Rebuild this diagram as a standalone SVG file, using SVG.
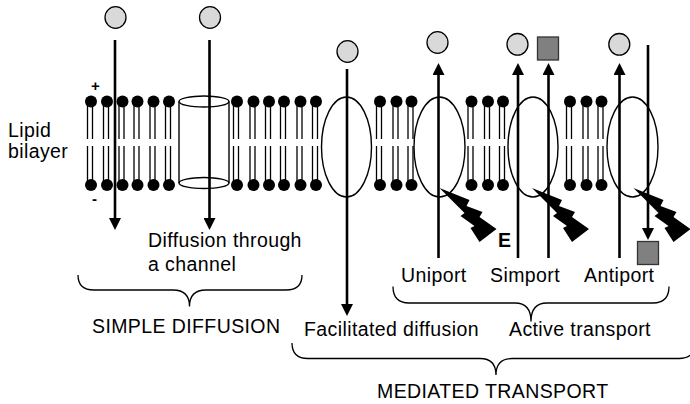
<svg xmlns="http://www.w3.org/2000/svg" xmlns:xlink="http://www.w3.org/1999/xlink" width="690" height="404" viewBox="0 0 690 404">
  <style>
    .txt { font-family: "Liberation Sans", Arial, sans-serif; font-size: 19.5px; letter-spacing: 0.4px; fill: #000; }
    .sign { font-family: "Liberation Sans", Arial, sans-serif; font-size: 15px; font-weight: bold; fill: #000; }
    .ln { stroke: #000; stroke-width: 1.4; fill: none; }
    .arrow { stroke: #000; stroke-width: 2.6; fill: none; }
    .mol { fill: #d9d9d9; stroke: #000; stroke-width: 1.3; }
    .sq { fill: #808080; stroke: #333; stroke-width: 1.3; }
    .carrier { fill: none; stroke: #000; stroke-width: 1.4; }
    .bolt { fill: #000; }
    .brace { fill: none; stroke: #000; stroke-width: 1.3; }
  </style>
  <defs>
    <marker id="head" markerUnits="userSpaceOnUse" markerWidth="12" markerHeight="12" refX="0" refY="6" orient="auto">
      <path d="M0,0 L12,6 L0,12 Z" fill="#000"/>
    </marker>
    <!-- one phospholipid pair: outer head + tails, inner tails + head -->
    <g id="lipid">
      <line x1="-3.5" y1="101" x2="-3.5" y2="139" stroke="#000" stroke-width="1.3"/>
      <line x1="1.5" y1="101" x2="1.5" y2="139" stroke="#000" stroke-width="1.3"/>
      <line x1="-3.5" y1="146" x2="-3.5" y2="185" stroke="#000" stroke-width="1.3"/>
      <line x1="1.5" y1="146" x2="1.5" y2="185" stroke="#000" stroke-width="1.3"/>
      <circle cx="0" cy="101.5" r="6"/>
      <circle cx="0" cy="185" r="6"/>
    </g>
    <path id="bolt" d="M0,0 L30,12 L27,18 L43,24 L40,29 L57,41 L40,54 L31,40 L35,38 L21,28 L25,25 Z"/>
  </defs>

  <rect width="690" height="404" fill="#fff"/>

  <!-- membrane lipids -->
  <g id="bilayer">
    <use xlink:href="#lipid" x="91"/>
    <use xlink:href="#lipid" x="107"/>
    <use xlink:href="#lipid" x="122.5"/>
    <use xlink:href="#lipid" x="137.5"/>
    <use xlink:href="#lipid" x="153.5"/>
    <use xlink:href="#lipid" x="169"/>
    <use xlink:href="#lipid" x="237"/>
    <use xlink:href="#lipid" x="253.5"/>
    <use xlink:href="#lipid" x="269"/>
    <use xlink:href="#lipid" x="284"/>
    <use xlink:href="#lipid" x="300.5"/>
    <use xlink:href="#lipid" x="316"/>
    <use xlink:href="#lipid" x="380"/>
    <use xlink:href="#lipid" x="396.5"/>
    <use xlink:href="#lipid" x="411.5"/>
    <use xlink:href="#lipid" x="471.5"/>
    <use xlink:href="#lipid" x="488"/>
    <use xlink:href="#lipid" x="503"/>
    <use xlink:href="#lipid" x="570"/>
    <use xlink:href="#lipid" x="586.5"/>
    <use xlink:href="#lipid" x="601.5"/>
  </g>

  <!-- channel -->
  <g id="channel">
    <ellipse class="ln" cx="204" cy="101.5" rx="25" ry="5.5"/>
    <ellipse class="ln" cx="204" cy="183" rx="25" ry="5.5"/>
    <line class="ln" x1="179" y1="101.5" x2="179" y2="183"/>
    <line class="ln" x1="229" y1="101.5" x2="229" y2="183"/>
  </g>

  <!-- carrier proteins -->
  <g id="carrier-facilitated"><ellipse class="carrier" cx="346.5" cy="147" rx="25" ry="50"/></g>
  <g id="carrier-uniport"><ellipse class="carrier" cx="439.5" cy="147" rx="25.5" ry="50"/></g>
  <g id="carrier-simport"><ellipse class="carrier" cx="533" cy="147" rx="25" ry="50"/></g>
  <g id="carrier-antiport"><ellipse class="carrier" cx="632.5" cy="147" rx="25.5" ry="50"/></g>

  <!-- energy input -->
  <g id="energy">
    <use xlink:href="#bolt" x="439.5" y="188" class="bolt"/>
    <use xlink:href="#bolt" x="532" y="188" class="bolt"/>
    <use xlink:href="#bolt" x="633.5" y="188" class="bolt"/>
    <text class="txt" x="498" y="247" style="font-weight:bold;letter-spacing:0">E</text>
  </g>

  <!-- transported molecules -->
  <g id="molecules">
    <ellipse class="mol" cx="115.5" cy="17.5" rx="10.5" ry="10.8"/>
    <ellipse class="mol" cx="210" cy="17.5" rx="10.5" ry="10.8"/>
    <ellipse class="mol" cx="347.5" cy="51.5" rx="10.5" ry="10.8"/>
    <ellipse class="mol" cx="437.5" cy="42.5" rx="10.5" ry="10.8"/>
    <ellipse class="mol" cx="517.5" cy="44.3" rx="10.5" ry="10.8"/>
    <rect class="sq" x="537.5" y="37" width="21" height="23"/>
    <ellipse class="mol" cx="619.3" cy="44.3" rx="10.5" ry="10.8"/>
    <rect class="sq" x="637.5" y="241.5" width="21" height="23"/>
  </g>

  <!-- transport directions -->
  <g id="connectors">
    <line class="arrow" x1="115" y1="40" x2="115" y2="218" marker-end="url(#head)"/>
    <line class="arrow" x1="209.5" y1="40" x2="209.5" y2="218" marker-end="url(#head)"/>
    <line class="arrow" x1="347" y1="69" x2="347" y2="304" marker-end="url(#head)"/>
    <line class="arrow" x1="438.5" y1="258" x2="438.5" y2="75" marker-end="url(#head)"/>
    <line class="arrow" x1="518" y1="258" x2="518" y2="75" marker-end="url(#head)"/>
    <line class="arrow" x1="548.5" y1="258" x2="548.5" y2="75" marker-end="url(#head)"/>
    <line class="arrow" x1="619.5" y1="258" x2="619.5" y2="75" marker-end="url(#head)"/>
    <line class="arrow" x1="648" y1="45" x2="648" y2="228" marker-end="url(#head)"/>
  </g>

  <!-- braces -->
  <g id="braces">
    <path class="brace" d="M78,275 Q78,290 94,290 L173,290 Q189.5,290 189.5,306.5 Q189.5,290 206,290 L286,290 Q302,290 302,275"/>
    <path class="brace" d="M393,286.5 Q393,303 409,303 L515,303 Q531,303 531,321.5 Q531,303 547,303 L653,303 Q669,303 669,286.5"/>
    <path class="brace" d="M292,343 Q292,358.5 308,358.5 L480,358.5 Q496,358.5 496,375 Q496,358.5 512,358.5 L679,358.5 Q695,358.5 695,343"/>
  </g>

  <!-- labels -->
  <g id="labels">
    <text class="sign" x="91" y="91">+</text>
    <text class="sign" x="92" y="204">-</text>
    <text class="txt" x="8" y="137">Lipid</text>
    <text class="txt" x="8" y="158">bilayer</text>
    <text class="txt" x="148" y="247">Diffusion through</text>
    <text class="txt" x="148" y="271">a channel</text>
    <text class="txt" x="401" y="282">Uniport</text>
    <text class="txt" x="490" y="282">Simport</text>
    <text class="txt" x="584" y="282">Antiport</text>
    <text class="txt" x="92" y="333">SIMPLE DIFFUSION</text>
    <text class="txt" x="304" y="336">Facilitated diffusion</text>
    <text class="txt" x="509" y="336">Active transport</text>
    <text class="txt" x="377" y="398">MEDIATED TRANSPORT</text>
  </g>
</svg>
